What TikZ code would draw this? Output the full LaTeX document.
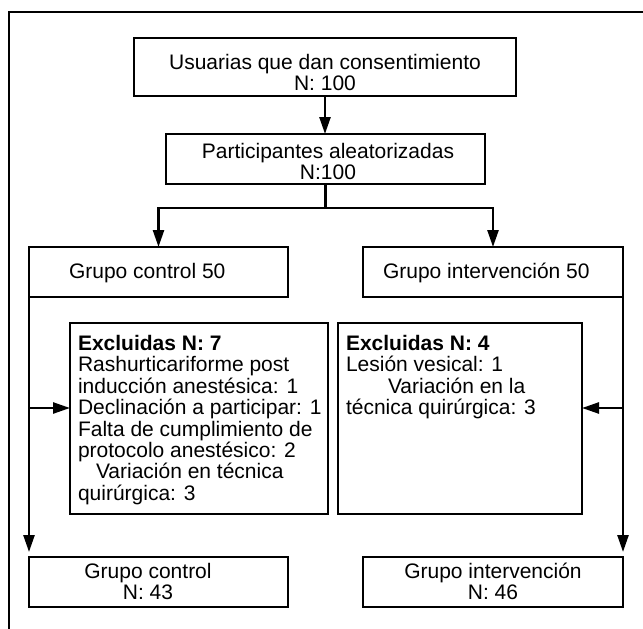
\documentclass[tikz,border=0pt]{standalone}
\usepackage{fontspec}
\setmainfont{Liberation Sans}
\usetikzlibrary{arrows.meta}
\begin{document}
\begin{tikzpicture}[x=1pt,y=-1pt,
  box/.style={draw,line width=2.5pt,inner sep=0pt,outer sep=0pt,rectangle,anchor=north west},
  txt/.style={inner sep=0pt,outer sep=0pt,font=\fontsize{21}{21.4}\selectfont},
  conn/.style={line width=2.5pt},
  arr/.style={line width=2.5pt,-{Triangle[length=17pt,width=11pt]}}]
\useasboundingbox (0,0) rectangle (643,629);
% outer frame
\coordinate (fTR) at (645,12);
\coordinate (fTL) at (9,12);
\coordinate (fBL) at (9,631);
\draw[conn] (fTR) -- (fTL) -- (fBL);
% boxes
\node[box,minimum width=382pt,minimum height=58pt] (top) at (134,38) {};
\node[box,minimum width=319pt,minimum height=50pt] (rand) at (166,134) {};
\node[box,minimum width=259pt,minimum height=50pt] (gc50) at (29,247) {};
\node[box,minimum width=260pt,minimum height=50pt] (gi50) at (363,247) {};
\node[box,minimum width=258pt,minimum height=191pt] (exL) at (70,323) {};
\node[box,minimum width=244pt,minimum height=191pt] (exR) at (338,323) {};
\node[box,minimum width=259pt,minimum height=50pt] (gc) at (29,557) {};
\node[box,minimum width=260pt,minimum height=50pt] (gi) at (363,557) {};
% texts (base anchor = baseline of the last line)
\node[txt,anchor=base,align=center] (topt) at (325,90.9) {Usuarias que dan consentimiento\\N: 100};
\node[txt,anchor=base,align=center] (randt) at (328,179.9) {Participantes aleatorizadas\\N:100};
\node[txt,anchor=base west] (gc50t) at (69,278.5) {Grupo control 50};
\node[txt,anchor=base west] (gi50t) at (383,278.5) {Grupo intervención 50};
\node[txt,anchor=base west,align=left] (exLt) at (78,500.3) {\textbf{Excluidas N: 7}\\Rashurticariforme post\\inducción anestésica: 1\\Declinación a participar: 1\\Falta de cumplimiento de\\protocolo anestésico: 2\\\hspace*{18pt}Variación en técnica\\quirúrgica: 3};
\node[txt,anchor=base west,align=left] (exRt) at (346,414.7) {\textbf{Excluidas N: 4}\\Lesión vesical: 1\\\hspace*{42pt}Variación en la\\técnica quirúrgica: 3};
\node[txt,anchor=base,align=center] (gct) at (148,599.9) {Grupo control\\N: 43};
\node[txt,anchor=base,align=center] (git) at (493,599.9) {Grupo intervención\\N: 46};
% connectors
\draw[arr] (top.south) -- (top.south |- rand.north);
\coordinate (split) at (325.5,208);
\draw[conn] (rand.south) -- (split);
\draw[arr] (split) -| (gc50.north);
\draw[arr] (split) -| (gi50.north);
\draw[arr,shorten >=5pt] (gc50.south west) -- (gc.north west);
\draw[arr,shorten >=5pt] (gi50.south east) -- (gi.north east);
\coordinate (aL) at (29,408);
\coordinate (aR) at (623,408);
\draw[arr] (aL) -- (aL -| exL.west);
\draw[arr] (aR) -- (aR -| exR.east);
\end{tikzpicture}
\end{document}
